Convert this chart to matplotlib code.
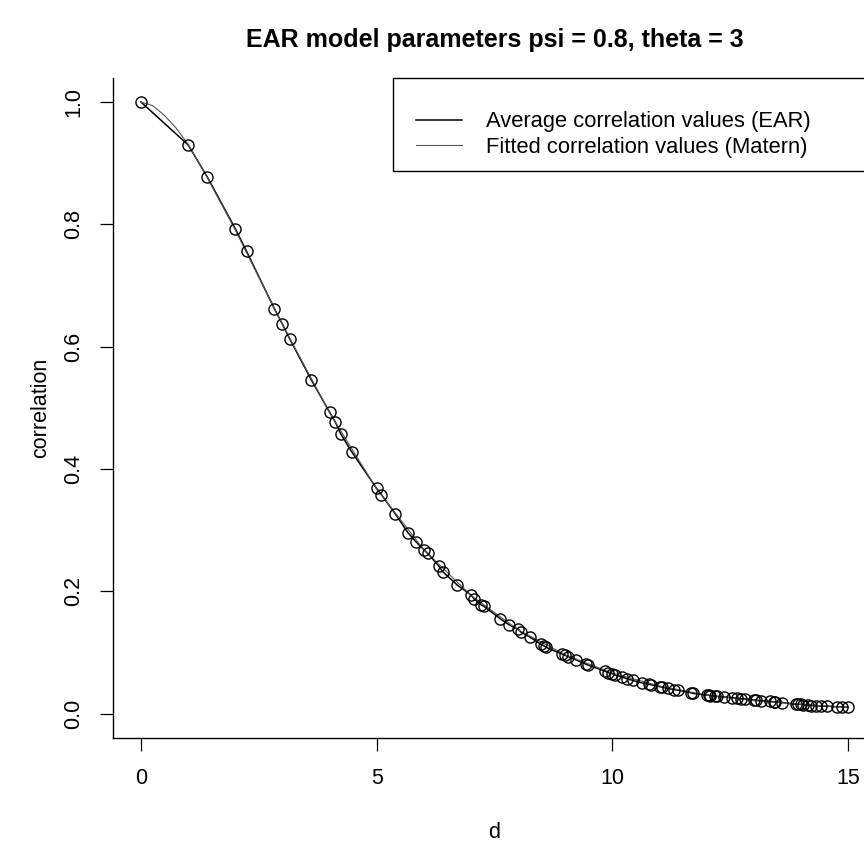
import matplotlib
matplotlib.use("Agg")
from matplotlib import pyplot as plt
from matplotlib.patches import Rectangle

plt.rcParams['font.family'] = ['Liberation Sans', 'DejaVu Sans']

# distances (lattice distances up to 15) and averaged EAR correlation
dist = [0, 1, 1.41, 2, 2.24, 2.83, 3, 3.16, 3.61, 4, 4.12, 4.24, 4.47, 5, 5.10,
        5.39, 5.66, 5.83, 6, 6.08, 6.32, 6.40, 6.71, 7, 7.07, 7.21, 7.28, 7.62,
        7.81, 8, 8.06, 8.25, 8.49, 8.54, 8.60, 8.94, 9, 9.06, 9.22, 9.43, 9.49,
        9.85, 9.90, 10, 10.05, 10.20, 10.30, 10.44, 10.63, 10.77, 10.82, 11,
        11.05, 11.18, 11.31, 11.40, 11.66, 11.70, 12, 12.04, 12.08, 12.17, 12.21,
        12.37, 12.53, 12.65, 12.73, 12.81, 13, 13.04, 13.15, 13.34, 13.42, 13.45,
        13.60, 13.89, 13.93, 14, 14.04, 14.14, 14.21, 14.32, 14.42, 14.56, 14.76,
        14.87, 15]
avg_corr = [1.0, 0.930, 0.877, 0.793, 0.756, 0.662, 0.637, 0.612, 0.546, 0.493,
            0.477, 0.457, 0.428, 0.368, 0.358, 0.327, 0.296, 0.281, 0.268, 0.262,
            0.241, 0.232, 0.210, 0.194, 0.187, 0.178, 0.175, 0.155, 0.145, 0.138,
            0.133, 0.125, 0.113, 0.111, 0.108, 0.097, 0.095, 0.093, 0.088, 0.081,
            0.079, 0.069, 0.067, 0.065, 0.063, 0.060, 0.057, 0.054, 0.050, 0.048,
            0.047, 0.044, 0.043, 0.041, 0.039, 0.038, 0.034, 0.033, 0.030, 0.030,
            0.029, 0.029, 0.028, 0.027, 0.026, 0.025, 0.024, 0.024, 0.022, 0.022,
            0.021, 0.020, 0.019, 0.019, 0.018, 0.015, 0.015, 0.015, 0.014, 0.014,
            0.013, 0.013, 0.012, 0.012, 0.011, 0.011, 0.010]

# fitted Matern curve, read at a coarser grid
fit_dist = [0, 0.25, 0.5, 0.75, 1, 1.41, 2, 3, 4, 5, 6, 7, 8, 9, 10, 11, 12, 13, 14, 15]
fit_corr = [1.0, 0.994, 0.978, 0.957, 0.931, 0.876, 0.791, 0.636, 0.492, 0.367,
            0.268, 0.193, 0.137, 0.096, 0.066, 0.045, 0.030, 0.021, 0.015, 0.010]

labels = ['Average correlation values (EAR)', 'Fitted correlation values (Matern)']


def main():
    fig = plt.figure(figsize=(8.64, 8.46), dpi=100)
    ax = fig.add_axes([0.1304, 0.1277, 0.884, 0.7806])

    l1, = ax.plot(dist, avg_corr, color='black', lw=1.1)
    l2, = ax.plot(fit_dist, fit_corr, color='#555555', lw=0.8)
    ax.plot(dist, avg_corr, ls='none', marker='o', ms=8, mfc='none',
            mec='black', mew=1.0)

    ax.set_xlim(-0.6, 15.6)
    ax.set_ylim(-0.04, 1.04)
    ax.set_xticks([0, 5, 10, 15])
    ax.set_yticks([0.0, 0.2, 0.4, 0.6, 0.8, 1.0])
    ax.set_yticklabels(['0.0', '0.2', '0.4', '0.6', '0.8', '1.0'])
    ax.tick_params(direction='out', length=9.5, width=0.9, labelsize=15.5,
                   color='black')
    ax.tick_params(axis='x', pad=12)
    ax.tick_params(axis='y', pad=11, labelrotation=90)
    for lab in ax.get_yticklabels():
        lab.set_verticalalignment('center')
    for s in ['top', 'right']:
        ax.spines[s].set_visible(False)
    for s in ['left', 'bottom']:
        ax.spines[s].set_linewidth(1.0)

    ax.set_xlabel('d', fontsize=15.5, labelpad=24)
    ax.set_ylabel('correlation', fontsize=15.5, labelpad=9)
    ax.set_title('EAR model parameters psi = 0.8, theta = 3', fontsize=18,
                 fontweight='bold', pad=22)

    # R style legend box, cut off by the right edge like the original
    ax.add_patch(Rectangle((0.3666, 0.8586), 0.7, 0.1414, transform=ax.transAxes,
                           fill=False, ec='black', lw=1.0, clip_on=False))
    ax.legend([l1, l2], labels, loc='center left', bbox_to_anchor=(0.397, 0.9138),
              frameon=False, fontsize=15.8, borderpad=0, borderaxespad=0,
              handlelength=2.1, handletextpad=1.1, labelspacing=0.2)

    fig.savefig('out.png', dpi=100)


if __name__ == "__main__":
    main()
